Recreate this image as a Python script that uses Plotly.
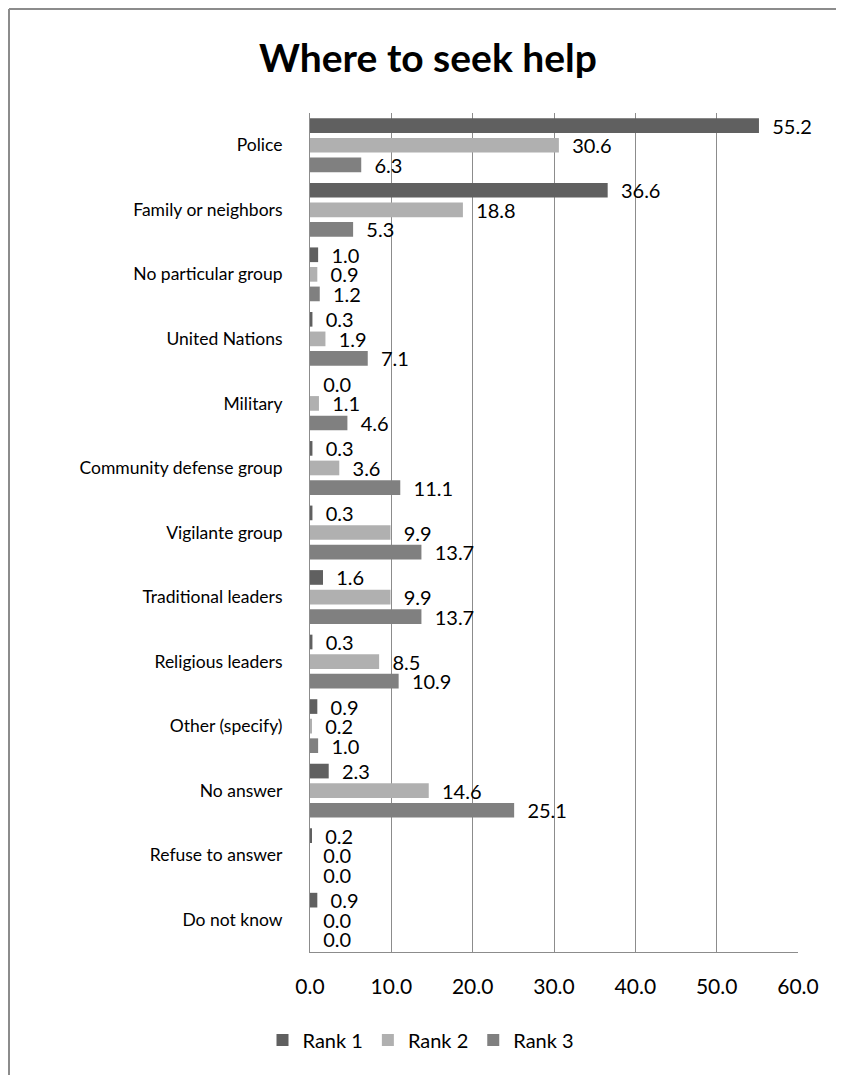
from plotly import graph_objects as go

categories = ["Police", "Family or neighbors", "No particular group", "United Nations",
              "Military", "Community defense group", "Vigilante group", "Traditional leaders",
              "Religious leaders", "Other (specify)", "No answer", "Refuse to answer", "Do not know"]
rank1 = [55.2, 36.6, 1.0, 0.3, 0.0, 0.3, 0.3, 1.6, 0.3, 0.9, 2.3, 0.2, 0.9]
rank2 = [30.6, 18.8, 0.9, 1.9, 1.1, 3.6, 9.9, 9.9, 8.5, 0.2, 14.6, 0.0, 0.0]
rank3 = [6.3, 5.3, 1.2, 7.1, 4.6, 11.1, 13.7, 13.7, 10.9, 1.0, 25.1, 0.0, 0.0]
ticks = [0, 10, 20, 30, 40, 50, 60]

W, H = 844, 1075
OFF = 8  # page body margin shifts the figure by this much
L, R, T, B = 310 - OFF, 46 + OFF, 113 - OFF, 123 + OFF
pw, ph = W - L - R, H - T - B
FONT = "Lato, sans-serif"

series = [("Rank 1", rank1, "#606060"), ("Rank 2", rank2, "#b0b0b0"), ("Rank 3", rank3, "#808080")]

fig = go.Figure()
for name, vals, col in series:
    fig.add_trace(go.Bar(
        y=categories, x=vals, name=name, orientation="h",
        marker=dict(color=col, line=dict(width=0)),
        text=vals, texttemplate="&nbsp;&nbsp;%{x:.1f}", textposition="outside",
        constraintext="none", cliponaxis=False,
        textfont=dict(family=FONT, size=20, color="#000"),
    ))

# outer frame of the chart (only top and left edges visible)
fx0 = (1 - L) / pw
fy1 = (H - 1 - B) / ph
fig.add_shape(type="line", xref="paper", yref="paper", x0=fx0, x1=fx0, y0=-B / ph - 0.01, y1=fy1,
              line=dict(color="#8c8c8c", width=2))
fig.add_shape(type="line", xref="paper", yref="paper", x0=fx0, x1=(W - L) / pw + 0.01, y0=fy1, y1=fy1,
              line=dict(color="#8c8c8c", width=2))

fig.update_layout(
    width=W, height=H,
    margin=dict(l=L, r=R, t=T, b=B),
    paper_bgcolor="white", plot_bgcolor="white",
    barmode="group", bargap=0.09, bargroupgap=0.25,
    title=dict(text="<b>Where to seek help</b>", x=(428 - OFF) / W, xanchor="center",
               y=1 - (58 - OFF) / H, yanchor="middle",
               font=dict(family=FONT, size=39, color="#000")),
    font=dict(family=FONT, size=20, color="#000"),
    xaxis=dict(range=[0, 60], tickvals=ticks, tickformat=".1f", showgrid=True, gridcolor="#8c8c8c",
               gridwidth=1, showline=True, linecolor="#8c8c8c", linewidth=1, zeroline=False,
               ticks="", ticklabelstandoff=16, tickfont=dict(size=21)),
    yaxis=dict(autorange="reversed", showline=True, linecolor="#8c8c8c", linewidth=1,
               ticks="", ticklabelstandoff=23, tickfont=dict(size=17.5)),
    legend=dict(orientation="h", x=(421 - 310) / pw, xanchor="center", y=-88 / ph,
                yanchor="middle", font=dict(size=20), traceorder="normal"),
    showlegend=True,
)

fig.write_html("out.html")
